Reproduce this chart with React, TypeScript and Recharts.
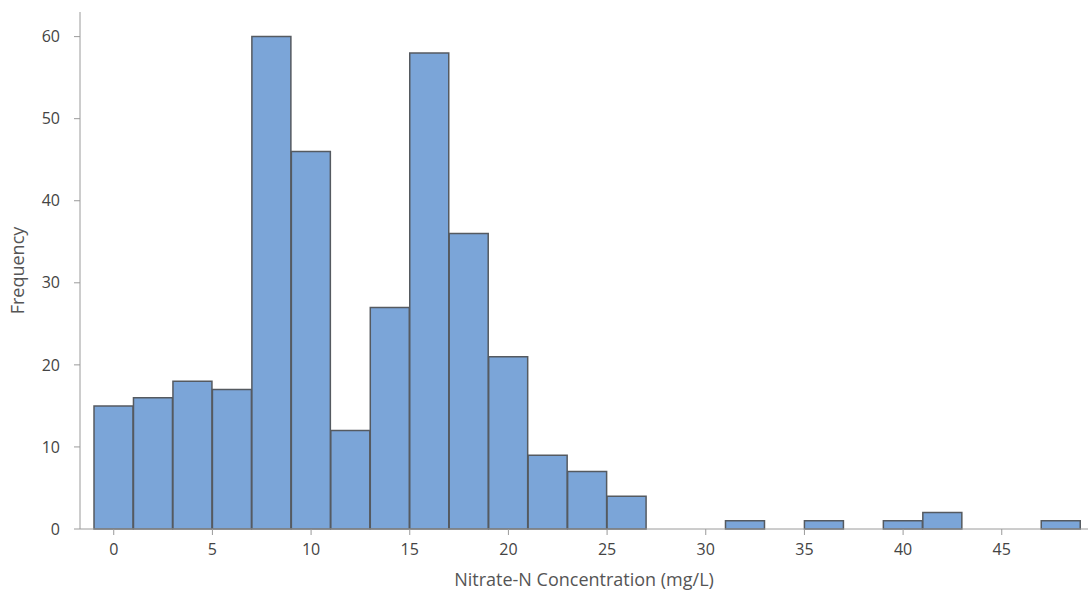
import { BarChart, Bar, XAxis, YAxis } from "recharts";

// histogram bins, width 2 mg/L, placed at bin centres
const binCentres = [0, 2, 4, 6, 8, 10, 12, 14, 16, 18, 20, 22, 24, 26, 28, 30, 32, 34, 36, 38, 40, 42, 44, 46, 48];
const counts = [15, 16, 18, 17, 60, 46, 12, 27, 58, 36, 21, 9, 7, 4, 0, 0, 1, 0, 1, 0, 1, 2, 0, 0, 1];

const xTicks = [0, 5, 10, 15, 20, 25, 30, 35, 40, 45];
const yTicks = [0, 10, 20, 30, 40, 50, 60];

const data = binCentres.map((mid, i) => ({ mid, count: counts[i] }));

const font = "'Open Sans', 'Noto Sans', sans-serif";
const axisColor = "#9a9a9a";

export default function App() {
  return (
    <div style={{ position: "absolute", left: 0, top: 0, fontFamily: font }}>
      <BarChart
        width={1088}
        height={594}
        data={data}
        barCategoryGap={0}
        barGap={0}
        margin={{ top: 12, right: 0, bottom: 0, left: 0 }}
      >
        <XAxis
          dataKey="mid"
          type="number"
          domain={[-1.71, 49.37]}
          ticks={xTicks}
          allowDataOverflow
          height={65}
          stroke={axisColor}
          tickSize={6}
          tickMargin={9}
          tick={{ fontSize: 16, fill: "#444", fontFamily: font }}
          label={{
            value: "Nitrate-N Concentration (mg/L)",
            position: "insideBottom",
            offset: 8,
            style: { fontSize: 18, fill: "#555", fontFamily: font },
          }}
        />
        <YAxis
          domain={[0, 63]}
          ticks={yTicks}
          width={80}
          stroke={axisColor}
          tickSize={6}
          tickMargin={14}
          tick={{ fontSize: 16, fill: "#444", fontFamily: font }}
          label={{
            value: "Frequency",
            angle: -90,
            position: "insideLeft",
            offset: 18,
            style: { fontSize: 18, fill: "#555", fontFamily: font, textAnchor: "middle" },
          }}
        />
        <Bar
          dataKey="count"
          fill="#7ba5d8"
          stroke="#555a60"
          strokeWidth={1.5}
          isAnimationActive={false}
        />
      </BarChart>
    </div>
  );
}
